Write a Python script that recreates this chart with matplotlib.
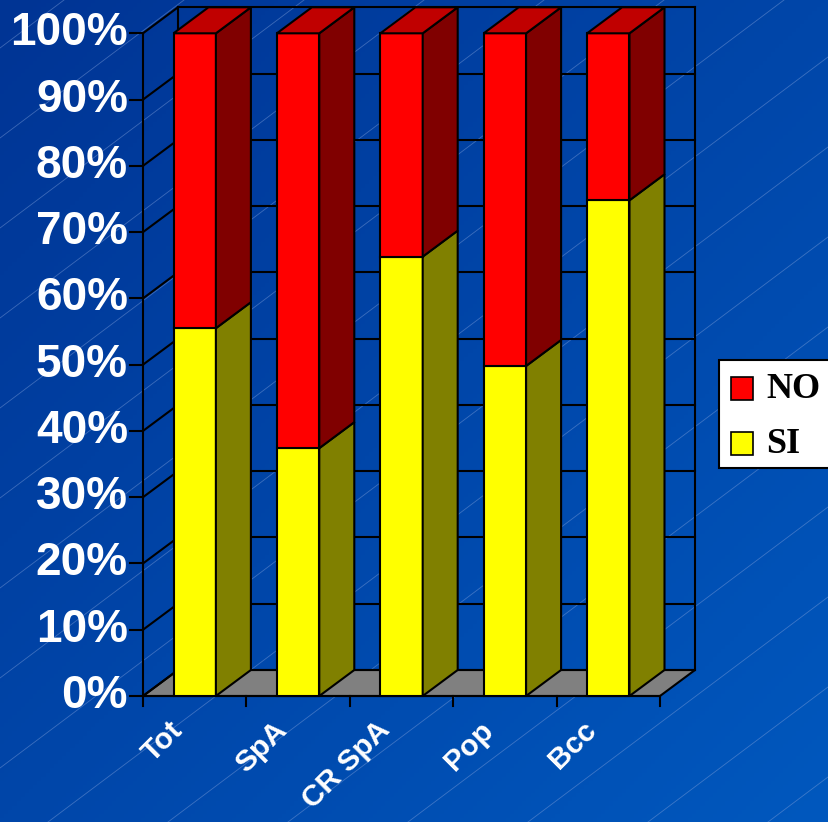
import numpy as np
import matplotlib
matplotlib.use("Agg")
import matplotlib.pyplot as plt
from matplotlib.patches import Polygon, Rectangle

# ----------------------------
# DATA
# ----------------------------
categories = ["Tot", "SpA", "CR SpA", "Pop", "Bcc"]
si_pct = [55.5, 37.4, 66.3, 49.8, 74.8]
no_pct = [44.5, 62.6, 33.7, 50.2, 25.2]
series = ["NO", "SI"]
y_ticks = [0, 10, 20, 30, 40, 50, 60, 70, 80, 90, 100]

# ----------------------------
# STYLE
# ----------------------------
plt.rcParams["font.family"] = ["Liberation Sans", "DejaVu Sans"]

W, H = 829, 822
PX_X = 103.4          # pixels per category
PX_Y = 6.627          # pixels per percent
X0_PX, Y0_PX = 143, 696
DX = 35 / PX_X        # depth offset, x
DY = 26 / PX_Y        # depth offset, y
BAR_W = 0.41

face = {"SI": "#ffff00", "NO": "#ff0000"}
side = {"SI": "#808000", "NO": "#800000"}
top = {"NO": "#c00000", "SI": "#c0c000"}

fig = plt.figure(figsize=(W / 100, H / 100), dpi=100)
ax = fig.add_axes([0, 0, 1, 1])
xlim = (-0.5 - X0_PX / PX_X, -0.5 + (W - X0_PX) / PX_X)
ylim = (-(H - Y0_PX) / PX_Y, Y0_PX / PX_Y)

# ----------------------------
# BACKGROUND
# ----------------------------
gx, gy = np.meshgrid(np.linspace(0, 1, 200), np.linspace(0, 1, 200))
t = (gx + gy) / 2
c1 = np.array([0, 52, 148]) / 255
c2 = np.array([0, 88, 190]) / 255
grad = c1 + (c2 - c1) * t[..., None]
ax.imshow(grad, extent=(xlim[0], xlim[1], ylim[0], ylim[1]),
          aspect="auto", origin="upper", zorder=0)

for k in range(0, 18):
    c = 48 + 90 * k
    xs = np.array([0, W])
    ys = c - 0.75 * xs
    ax.plot(xs / W, 1 - ys / H, transform=ax.transAxes,
            color="#86a4dc", lw=0.6, alpha=0.45, zorder=1)

ax.set_xlim(*xlim)
ax.set_ylim(*ylim)
ax.axis("off")

# ----------------------------
# WALLS, FLOOR, GRID
# ----------------------------
left, right = -0.5, len(categories) - 0.5
lc = dict(color="black", lw=1.5, zorder=3, solid_capstyle="projecting")

ax.add_patch(Polygon([(left, 0), (right, 0), (right + DX, DY), (left + DX, DY)],
                     closed=True, facecolor="#808080", edgecolor="black",
                     lw=1.5, zorder=2))
for v in y_ticks:
    ax.plot([left + DX, right + DX], [v + DY, v + DY], **lc)
    ax.plot([left, left + DX], [v, v + DY], **lc)
    ax.plot([left - 13 / PX_X, left], [v, v], **lc)
ax.plot([left + DX, left + DX], [DY, 100 + DY], **lc)
ax.plot([right + DX, right + DX], [DY, 100 + DY], **lc)
ax.plot([left, left], [0, 100], **lc)
ax.plot([left, right], [0, 0], **lc)
for i in range(len(categories) + 1):
    ax.plot([left + i, left + i], [0, -10 / PX_Y], **lc)

# ----------------------------
# BARS
# ----------------------------
for i, cat in enumerate(categories):
    x1 = i - BAR_W / 2
    x2 = i + BAR_W / 2
    segs = [("SI", 0, si_pct[i]), ("NO", si_pct[i], si_pct[i] + no_pct[i])]
    for j, (name, y1, y2) in enumerate(segs):
        kw = dict(closed=True, edgecolor="black", lw=1.5, zorder=4,
                  joinstyle="miter")
        ax.add_patch(Polygon([(x1, y1), (x2, y1), (x2, y2), (x1, y2)],
                             facecolor=face[name], **kw))
        ax.add_patch(Polygon([(x2, y1), (x2 + DX, y1 + DY),
                              (x2 + DX, y2 + DY), (x2, y2)],
                             facecolor=side[name], **kw))
        if j == len(segs) - 1:
            ax.add_patch(Polygon([(x1, y2), (x2, y2), (x2 + DX, y2 + DY),
                                  (x1 + DX, y2 + DY)],
                                 facecolor=top[name], **kw))

# ----------------------------
# LABELS
# ----------------------------
for v in y_ticks:
    ax.text(left - 15 / PX_X, v, f"{v}%", ha="right", va="center",
            fontsize=33, fontweight="bold", color="white", zorder=5)

for i, cat in enumerate(categories):
    ax.text(i - 0.25, -3.0, cat, rotation=45, rotation_mode="anchor",
            ha="right", va="top", fontsize=21.5, fontweight="bold",
            color="white", zorder=5)

# ----------------------------
# LEGEND
# ----------------------------
ax.add_patch(Rectangle((719 / W, 1 - 468 / H), 140 / W, 108 / H,
                       transform=ax.transAxes, facecolor="white",
                       edgecolor="black", lw=1.5, zorder=6, clip_on=True))
leg_y = {"NO": 389, "SI": 444}
for name in series:
    yc = leg_y[name]
    ax.add_patch(Rectangle((731 / W, 1 - (yc + 11.5) / H), 22 / W, 23 / H,
                           transform=ax.transAxes, facecolor=face[name],
                           edgecolor="black", lw=1.2, zorder=7))
    ax.text(766 / W, 1 - yc / H, name, transform=ax.transAxes,
            ha="left", va="center", fontsize=26, fontweight="bold",
            family=["Liberation Serif", "DejaVu Serif"], color="black",
            zorder=7)

fig.savefig("out.png", dpi=100)
